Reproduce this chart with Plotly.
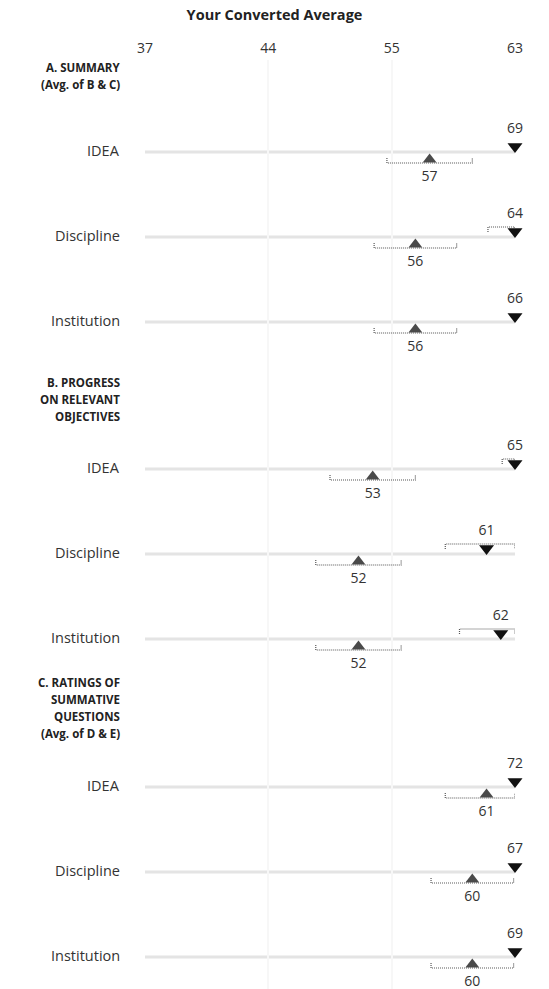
import numpy as np
import plotly.graph_objects as go

# ---------------- data ----------------
title = "Your Converted Average"
tick_labels = ["37", "44", "55", "63"]
axis_min, axis_max = 37, 63

sections = [
    ["A. SUMMARY", "(Avg. of B & C)"],
    ["B. PROGRESS", "ON RELEVANT", "OBJECTIVES"],
    ["C. RATINGS OF", "SUMMATIVE", "QUESTIONS", "(Avg. of D & E)"],
]
groups = ["IDEA", "Discipline", "Institution"]

# black down-triangles (value printed above)
your_avg = [69, 64, 66, 65, 61, 62, 72, 67, 69]
your_moe = [2.9, 2.9, 2.9, 2.9, 2.9, 2.9, 2.9, 2.9, 2.9]
# gray up-triangles (value printed below)
comp_avg = [57, 56, 56, 53, 52, 52, 61, 60, 60]
comp_moe = [3.0, 2.9, 2.9, 3.0, 3.0, 3.0, 2.9, 2.9, 2.9]

# ---------------- layout constants ----------------
W, H = 549, 989
ML, MR, MT, MB = 145, 34, 60, 0
plot_w = W - ML - MR
section_first_row = [152, 469, 787]
row_gap = 85
heading_top = [67, 382, 682]
heading_line_gap = 17
label_right_px = 122

rows = []
for s in range(len(sections)):
    for i in range(len(groups)):
        rows.append(section_first_row[s] + i * row_gap)

down_x = [min(v, axis_max) for v in your_avg]
up_x = [min(v, axis_max) for v in comp_avg]


def bracket(vals, moes, bar_dy, end_dy):
    xs, ys = [], []
    for v, m, r in zip(vals, moes, rows):
        lo = max(v - m, axis_min)
        hi = min(v + m, axis_max)
        if lo >= hi:
            continue
        xs += [lo, lo, hi, hi, None]
        ys += [r + end_dy, r + bar_dy, r + bar_dy, r + end_dy, None]
    return xs, ys


fig = go.Figure()

# row baselines
for r in rows:
    fig.add_shape(type="line", xref="x", yref="y", x0=axis_min - 0.3, x1=axis_max,
                  y0=r, y1=r, line=dict(color="#e4e4e4", width=3), layer="below")

# brackets
bx, by = bracket(comp_avg, comp_moe, 11, 6)
fig.add_trace(go.Scatter(x=bx, y=by, mode="lines", cliponaxis=False, hoverinfo="skip",
                         line=dict(color="#555555", width=1.2, dash="1px,1px"),
                         showlegend=False))
dx, dy = bracket(your_avg, your_moe, -10, -5)
fig.add_trace(go.Scatter(x=dx, y=dy, mode="lines", cliponaxis=False, hoverinfo="skip",
                         line=dict(color="#555555", width=1.2, dash="1px,1px"),
                         showlegend=False))

# markers
fig.add_trace(go.Scatter(x=up_x, y=[r + 7.5 for r in rows], mode="markers",
                         cliponaxis=False, showlegend=False,
                         marker=dict(symbol="triangle-up", size=12, color="#4a4a4a")))
fig.add_trace(go.Scatter(x=down_x, y=[r - 5.5 for r in rows], mode="markers",
                         cliponaxis=False, showlegend=False,
                         marker=dict(symbol="triangle-down", size=13, color="#111111")))

# value labels
fig.add_trace(go.Scatter(x=up_x, y=[r + 25 for r in rows], mode="text",
                         text=[str(v) for v in comp_avg], cliponaxis=False,
                         textposition="middle center", showlegend=False,
                         textfont=dict(family="Open Sans", size=14, color="#333333")))
fig.add_trace(go.Scatter(x=down_x, y=[r - 23 for r in rows], mode="text",
                         text=[str(v) for v in your_avg], cliponaxis=False,
                         textposition="middle center", showlegend=False,
                         textfont=dict(family="Open Sans", size=14, color="#333333")))

ann_x = (label_right_px - ML) / plot_w
annotations = []
for s, lines in enumerate(sections):
    for k, line in enumerate(lines):
        annotations.append(dict(text="<b>" + line + "</b>", xref="paper", yref="y",
                                x=ann_x, y=heading_top[s] + k * heading_line_gap,
                                xanchor="right", yanchor="middle",
                                align="right", showarrow=False,
                                font=dict(family="Open Sans", size=11.5, color="#222222")))
    for i, g in enumerate(groups):
        r = rows[s * len(groups) + i]
        annotations.append(dict(text=g, xref="paper", yref="y", x=ann_x, y=r - 1.5,
                                xanchor="right", yanchor="middle", showarrow=False,
                                font=dict(family="Open Sans", size=14.5, color="#333333")))

fig.update_layout(
    width=W, height=H,
    margin=dict(l=ML, r=MR, t=MT, b=MB),
    paper_bgcolor="white", plot_bgcolor="white",
    title=dict(text="<b>" + title + "</b>", x=0.5, xref="container", xanchor="center",
               y=1 - 15 / H, yref="container", yanchor="middle",
               font=dict(family="Open Sans", size=14.5, color="#222222")),
    xaxis=dict(range=[axis_min, axis_max], side="top",
               tickvals=list(np.linspace(axis_min, axis_max, len(tick_labels))),
               ticktext=tick_labels, ticks="", showline=False, zeroline=False,
               showgrid=True, gridcolor="#f7f7f7", gridwidth=2,
               ticklabelstandoff=3,
               tickfont=dict(family="Open Sans", size=14, color="#333333"),
               fixedrange=True),
    yaxis=dict(range=[H - MB, MT], visible=False, fixedrange=True),
    annotations=annotations,
    font=dict(family="Open Sans"),
)

fig.write_html("out.html", config={"displayModeBar": False},
               post_script="document.body.style.margin='0';")
